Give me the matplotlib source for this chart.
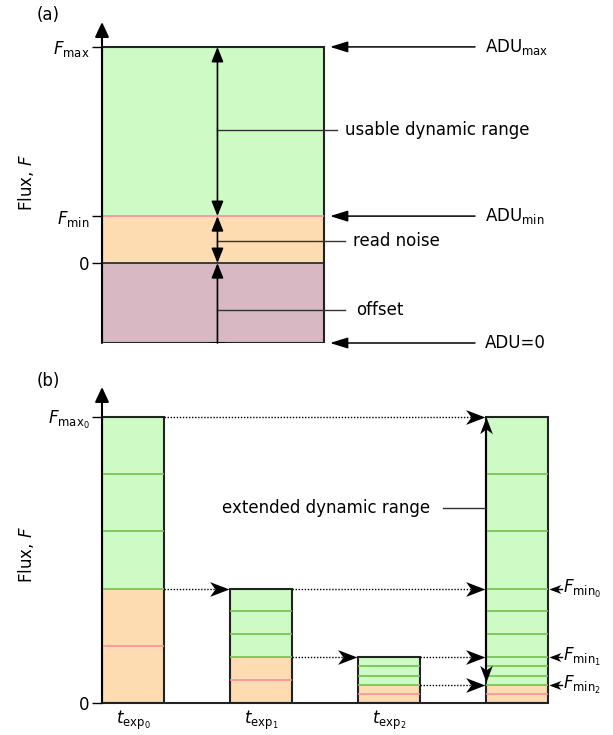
import matplotlib.pyplot as plt
from matplotlib.path import Path

plt.rcParams['font.family'] = 'DejaVu Sans'
plt.rcParams['mathtext.fontset'] = 'dejavusans'

# panel (a): flux levels of one exposure
offset_level = -1.7
f_min_a = 1.0
f_max_a = 4.6
adu_labels = [r'ADU$_{\mathrm{max}}$', r'ADU$_{\mathrm{min}}$', 'ADU=0']
region_labels = ['usable dynamic range', 'read noise', 'offset']
region_label_y = [2.83, 0.47, -1.0]

# panel (b): three exposures and the combined one
exp_labels = [r'$t_{\mathrm{exp}_0}$', r'$t_{\mathrm{exp}_1}$', r'$t_{\mathrm{exp}_2}$']
bar_max = [5.0, 2.0, 0.8]
bar_fmin = [2.0, 0.8, 0.32]
green_lines = [[3.0, 4.0], [1.2, 1.6], [0.48, 0.64]]
pink_lines = [[0.0, 1.0], [0.4], [0.16]]
fmin_labels = [r'$F_{\mathrm{min}_0}$', r'$F_{\mathrm{min}_1}$', r'$F_{\mathrm{min}_2}$']

green = '#cdfac5'
orange = '#fddcb1'
mauve = '#d8b9c3'
green_line = '#74c04a'
pink = '#ff8c9c'
dark = '#222222'

fig = plt.figure(figsize=(6.13, 7.35), dpi=100)


def arrow(ax, start, end, style='-|>', lw=1.2, ls='-', scale=12, hl=0.7, hw=0.22):
    if style == '-':
        arrowstyle = '-'
    else:
        arrowstyle = f'{style},head_length={hl},head_width={hw}'
    ax.annotate('', xy=end, xytext=start,
                arrowprops=dict(arrowstyle=arrowstyle, lw=lw, color='k', ls=ls,
                                shrinkA=0, shrinkB=0, mutation_scale=scale),
                annotation_clip=False)


# stealth arrow head, tip at origin
_st = [(0, 0), (-1, 0.38), (-0.72, 0), (-1, -0.38), (0, 0)]
_codes = [Path.MOVETO, Path.LINETO, Path.LINETO, Path.LINETO, Path.CLOSEPOLY]
heads = {
    'right': Path(_st, _codes),
    'left': Path([(-x, y) for x, y in _st], _codes),
    'up': Path([(y, x) for x, y in _st], _codes),
    'down': Path([(y, -x) for x, y in _st], _codes),
}


def stealth(ax, x, y, direction='right', size=23):
    ax.plot([x], [y], marker=heads[direction], ms=size, color='k', mew=0, clip_on=False)


# ---------------- panel (a) ----------------
ax_a = fig.add_axes([102 / 613, (735 - 343) / 735, 498 / 613, 321 / 735])
ax_a.set_xlim(0, 2.243)
ax_a.set_ylim(offset_level, 5.13)
for s in ax_a.spines.values():
    s.set_visible(False)

ax_a.bar(0, 0 - offset_level, bottom=offset_level, width=1, align='edge', color=mauve, lw=0)
ax_a.bar(0, f_min_a, bottom=0, width=1, align='edge', color=orange, lw=0)
ax_a.bar(0, f_max_a - f_min_a, bottom=f_min_a, width=1, align='edge', color=green, lw=0)
ax_a.hlines(f_min_a, 0, 1, colors=pink, lw=1.2)
ax_a.hlines(0, 0, 1, colors=dark, lw=1.2)
ax_a.bar(0, f_max_a - offset_level, bottom=offset_level, width=1, align='edge',
         fill=False, edgecolor=dark, lw=1.5)

# y axis with arrow
arrow(ax_a, (0, offset_level), (0, 5.13), lw=1.5, hl=0.75, hw=0.35)

ax_a.set_xticks([])
ax_a.set_yticks([0, f_min_a, f_max_a])
ax_a.set_yticklabels(['0', r'$F_{\mathrm{min}}$', r'$F_{\mathrm{max}}$'], fontsize=12)
ax_a.tick_params(axis='y', length=7, width=1, pad=2)
ax_a.set_ylabel(r'Flux, $F$', fontsize=12)
ax_a.yaxis.set_label_coords((36 - 102) / 498, 0.5)

# double arrows inside the box
xm = 0.52
arrow(ax_a, (xm, f_min_a), (xm, f_max_a), style='<|-|>', hl=0.75, hw=0.3)
arrow(ax_a, (xm, 0), (xm, f_min_a), style='<|-|>', hl=0.75, hw=0.3)
arrow(ax_a, (xm, offset_level), (xm, 0), hl=0.75, hw=0.3)
ax_a.plot([xm - 0.03, xm + 0.03], [offset_level, offset_level], color='k', lw=1.2)

# region labels
line_ends = [1.06, 1.095, 1.095]
text_x = [1.095, 1.13, 1.145]
for lab, y, le, tx in zip(region_labels, region_label_y, line_ends, text_x):
    ax_a.plot([xm, le], [y, y], color='#333333', lw=1, clip_on=False)
    ax_a.text(tx, y, lab, fontsize=12, va='center', ha='left')

# ADU arrows
for lab, y in zip(adu_labels, [f_max_a, f_min_a, offset_level]):
    arrow(ax_a, (1.68, y), (1.027, y), lw=1.1, hl=0.9, hw=0.28)
    ax_a.text(1.725, y, lab, fontsize=12, va='center', ha='left')

fig.text(48 / 613, 1 - 15 / 735, '(a)', fontsize=12, ha='center', va='center')

# ---------------- panel (b) ----------------
ax_b = fig.add_axes([102 / 613, 32 / 735, 498 / 613, 316 / 735])
ax_b.set_xlim(0, 3.89)
ax_b.set_ylim(0, 5.52)
for s in ax_b.spines.values():
    s.set_visible(False)

w = 0.484
for i in range(3):
    ax_b.bar(i, bar_fmin[i], width=w, align='edge', color=orange, lw=0)
    ax_b.bar(i, bar_max[i] - bar_fmin[i], bottom=bar_fmin[i], width=w, align='edge',
             color=green, lw=0)
    ax_b.hlines(pink_lines[i], i, i + w, colors=pink, lw=1.2)
    ax_b.hlines(green_lines[i] + [bar_fmin[i]], i, i + w, colors=green_line, lw=1.2)
    ax_b.bar(i, bar_max[i], width=w, align='edge', fill=False, edgecolor=dark, lw=1.5)

# combined exposure
xc = 3.0
ax_b.bar(xc, bar_fmin[-1], width=w, align='edge', color=orange, lw=0)
ax_b.bar(xc, bar_max[0] - bar_fmin[-1], bottom=bar_fmin[-1], width=w, align='edge',
         color=green, lw=0)
ax_b.hlines(pink_lines[-1], xc, xc + w, colors=pink, lw=1.2)
all_green = [y for g in green_lines for y in g] + bar_fmin
ax_b.hlines(all_green, xc, xc + w, colors=green_line, lw=1.2)
ax_b.bar(xc, bar_max[0], width=w, align='edge', fill=False, edgecolor=dark, lw=1.5)

# axes
arrow(ax_b, (0, 0), (0, 5.52), lw=1.5, hl=0.75, hw=0.35)
ax_b.plot([0, xc + w], [0, 0], color=dark, lw=1.5, clip_on=False)

ax_b.set_yticks([0, bar_max[0]])
ax_b.set_yticklabels(['0', r'$F_{\mathrm{max}_0}$'], fontsize=12)
ax_b.tick_params(axis='y', length=7, width=1, pad=2)
ax_b.set_xticks([i + w / 2 for i in range(3)])
ax_b.set_xticklabels(exp_labels, fontsize=12)
ax_b.tick_params(axis='x', length=0, pad=4)
ax_b.set_ylabel(r'Flux, $F$', fontsize=12)
ax_b.yaxis.set_label_coords((36 - 102) / 498, 0.47)

# dotted transfer arrows
dots = (0, (1, 1.2))
segments = [(w, xc, bar_max[0])]
for i in range(3):
    if i < 2:
        segments.append((i + w, i + 1, bar_fmin[i]))
    segments.append((i + 1 + w if i < 2 else i + w, xc, bar_fmin[i]))
for x0, x1, y in segments:
    ax_b.plot([x0, x1 - 0.08], [y, y], color='k', lw=1, ls=dots)
    stealth(ax_b, x1 - 0.01, y, 'right', 28)

# extended dynamic range
ax_b.plot([xc, xc], [bar_fmin[-1] + 0.15, bar_max[0] - 0.15], color='k', lw=1.5)
stealth(ax_b, xc, bar_max[0], 'up', 24)
stealth(ax_b, xc, bar_fmin[-1] + 0.05, 'down', 24)
ax_b.plot([2.664, xc], [3.4, 3.4], color='#333333', lw=1)
ax_b.text(2.56, 3.4, 'extended dynamic range', fontsize=12, ha='right', va='center')

# F_min labels on the right
for lab, y in zip(fmin_labels, bar_fmin):
    ax_b.plot([xc + w + 0.03, 3.594], [y, y], color='k', lw=1, clip_on=False)
    stealth(ax_b, xc + w + 0.01, y, 'left', 17)
    ax_b.text(3.6, y, lab, fontsize=12, ha='left', va='center')

fig.text(48 / 613, 1 - 381 / 735, '(b)', fontsize=12, ha='center', va='center')

fig.savefig('out.png', dpi=100)
